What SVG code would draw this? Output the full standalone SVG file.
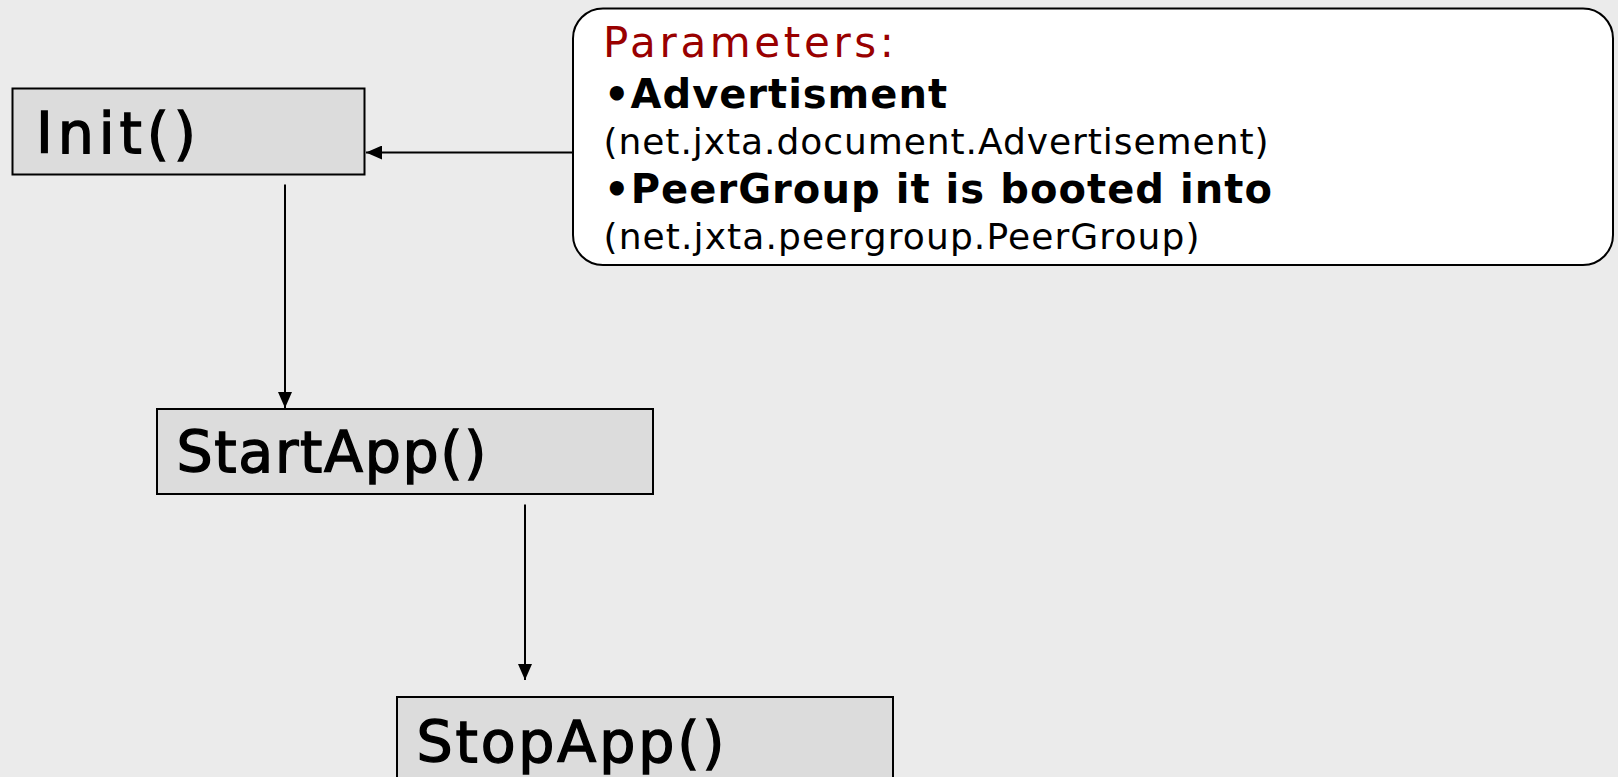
<svg xmlns="http://www.w3.org/2000/svg" width="1618" height="777" viewBox="0 0 1618 777">
<style>
.node rect{fill:#dcdcdc;stroke:#000;stroke-width:2}
.nt{font-family:"DejaVu Sans","Liberation Sans",sans-serif;font-size:57px;fill:#000;stroke:#000;stroke-width:1.4}
.conn{stroke:#000;stroke-width:2;fill:none}
.hd{font-family:"DejaVu Sans","Liberation Sans",sans-serif;font-size:42px;fill:#990000}
.bd{font-family:"DejaVu Sans","Liberation Sans",sans-serif;font-size:40px;font-weight:bold;fill:#000}
.rg{font-family:"DejaVu Sans","Liberation Sans",sans-serif;font-size:36px;fill:#000}
</style>
<defs>
<marker id="ah" viewBox="0 0 16 14" refX="16" refY="7" markerWidth="16" markerHeight="14" markerUnits="userSpaceOnUse" orient="auto">
<path d="M0,0 L16,7 L0,14 Z" fill="#000"/>
</marker>
</defs>
<rect x="0" y="0" width="1618" height="777" fill="#ebebeb"/>
<g id="connectors">
<line class="conn" x1="573" y1="152.5" x2="366" y2="152.5" marker-end="url(#ah)"/>
<line class="conn" x1="285" y1="184.5" x2="285" y2="408" marker-end="url(#ah)"/>
<line class="conn" x1="525" y1="504.5" x2="525" y2="680" marker-end="url(#ah)"/>
</g>
<g id="init" class="node">
<rect x="12.5" y="88.5" width="352" height="86"/>
<text class="nt" x="36" y="153.3" textLength="160" lengthAdjust="spacing">Init()</text>
</g>
<g id="startapp" class="node">
<rect x="157" y="409" width="496" height="85"/>
<text class="nt" x="176.5" y="471.7" textLength="310" lengthAdjust="spacing">StartApp()</text>
</g>
<g id="stopapp" class="node">
<rect x="397" y="697" width="496" height="90"/>
<text class="nt" x="416.5" y="761.7" textLength="308" lengthAdjust="spacing">StopApp()</text>
</g>
<g id="parameters">
<rect x="573" y="8.5" width="1040" height="256.5" rx="30" ry="30" fill="#fff" stroke="#000" stroke-width="2"/>
<text class="hd" x="603" y="56.7" textLength="291" lengthAdjust="spacing">Parameters:</text>
<text class="bd" x="604" y="108.3" textLength="343" lengthAdjust="spacing">•Advertisment</text>
<text class="rg" x="603.5" y="153.5" textLength="665" lengthAdjust="spacing">(net.jxta.document.Advertisement)</text>
<text class="bd" x="604" y="203.3" textLength="668" lengthAdjust="spacing">•PeerGroup it is booted into</text>
<text class="rg" x="603.5" y="248.5" textLength="596" lengthAdjust="spacing">(net.jxta.peergroup.PeerGroup)</text>
</g>
</svg>
